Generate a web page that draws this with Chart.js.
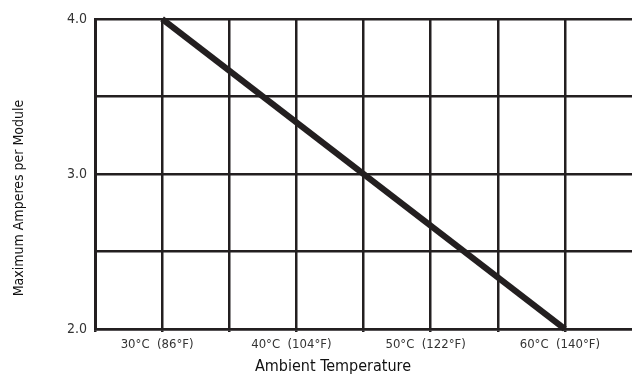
<!DOCTYPE html>
<html>
<head>
<meta charset="utf-8">
<script src="https://cdn.jsdelivr.net/npm/chart.js@4/dist/chart.umd.min.js"></script>
<style>
  body { margin: 0; background: #fff; }
  canvas { display: block; }
</style>
</head>
<body>
<canvas id="deratingChart" width="632" height="381"></canvas>
<script>
// derating curve: max amperes per module vs ambient temperature
const tempsC = [30, 60];
const amperes = [4.0, 2.0];

const labelTempsC = [30, 40, 50, 60];
const labelTempsF = [86, 104, 122, 140];
const yLabelValues = [2, 3, 4];

const xTitle = "Ambient Temperature";
const yTitle = "Maximum Amperes per Module";

const ink = "#231f20";
const fontFamily = '"Liberation Sans Narrow", "DejaVu Sans Condensed", sans-serif';

const axisTitles = {
  id: "axisTitles",
  afterDraw(chart) {
    const ctx = chart.ctx;
    ctx.save();
    ctx.fillStyle = "#111";
    ctx.textAlign = "center";
    ctx.textBaseline = "middle";
    ctx.font = "14px " + fontFamily;
    ctx.translate(19, 198);
    ctx.rotate(-Math.PI / 2);
    ctx.fillText(yTitle, 0, 0);
    ctx.restore();

    ctx.save();
    ctx.fillStyle = "#111";
    ctx.textAlign = "center";
    ctx.textBaseline = "middle";
    ctx.font = "16px " + fontFamily;
    ctx.fillText(xTitle, 333, 367);
    ctx.restore();
  }
};

const ctx = document.getElementById("deratingChart").getContext("2d");
new Chart(ctx, {
  type: "line",
  data: {
    datasets: [{
      data: tempsC.map((t, i) => ({ x: t, y: amperes[i] })),
      borderColor: ink,
      borderWidth: 6,
      pointRadius: 0,
      tension: 0,
      clip: false
    }]
  },
  options: {
    responsive: false,
    animation: false,
    layout: { padding: { top: 19, right: 0, bottom: 0, left: 0 } },
    plugins: { legend: { display: false }, tooltip: { enabled: false } },
    scales: {
      x: {
        type: "linear",
        min: 25,
        max: 65,
        afterFit: s => { s.height = 52; s.paddingRight = 0; s.paddingLeft = 0; },
        grid: {
          color: c => (c.tick && c.tick.value === 65 ? "rgba(0,0,0,0)" : ink),
          lineWidth: 2.5,
          drawTicks: true,
          tickLength: 3
        },
        border: { color: ink, width: 2.5 },
        ticks: {
          stepSize: 5,
          autoSkip: false,
          maxRotation: 0,
          padding: 5,
          labelOffset: -5,
          color: "#333",
          font: { family: fontFamily, size: 13 },
          callback: v => {
            const i = labelTempsC.indexOf(v);
            return i < 0 ? "" : labelTempsC[i] + "°C  (" + labelTempsF[i] + "°F)";
          }
        }
      },
      y: {
        min: 2,
        max: 4,
        afterFit: s => { s.width = 95; },
        grid: { color: ink, lineWidth: 2.5, drawTicks: false },
        border: { color: ink, width: 3 },
        ticks: {
          stepSize: 0.5,
          padding: 8,
          color: "#333",
          font: { family: fontFamily, size: 14 },
          callback: v => (yLabelValues.includes(v) ? v.toFixed(1) : "")
        }
      }
    }
  },
  plugins: [axisTitles]
});
</script>
</body>
</html>
